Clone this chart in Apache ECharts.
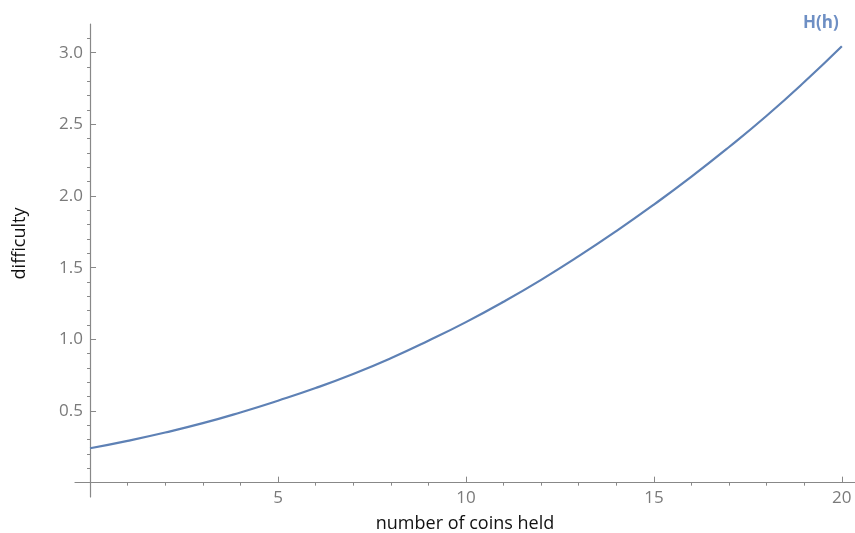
<!DOCTYPE html>
<html>
<head>
<meta charset="utf-8">
<script src="https://cdn.jsdelivr.net/npm/echarts@6/dist/echarts.min.js"></script>
<style>
html,body{margin:0;padding:0;background:#fff;}
#chart{width:855px;height:533px;}
</style>
</head>
<body>
<div id="chart"></div>
<script>
// Data
const coins = [0,1,2,3,4,5,6,7,8,9,10,11,12,13,14,15,16,17,18,19,20];
const difficulty = [0.240,0.292,0.350,0.415,0.490,0.572,0.660,0.758,0.868,0.990,1.120,1.262,1.415,1.580,1.755,1.940,2.135,2.342,2.560,2.795,3.045];
const xMajorTicks = [5,10,15,20];
const xMinorTicks = [1,2,3,4,6,7,8,9,11,12,13,14,16,17,18,19];
const yMajorTicks = [0.5,1.0,1.5,2.0,2.5,3.0];
const yMinorTicks = [0.1,0.2,0.3,0.4,0.6,0.7,0.8,0.9,1.1,1.2,1.3,1.4,1.6,1.7,1.8,1.9,2.1,2.2,2.3,2.4,2.6,2.7,2.8,2.9,3.1];
const seriesName = 'H(h)';
const xTitle = 'number of coins held';
const yTitle = 'difficulty';

const chart = echarts.init(document.getElementById('chart'), null, {renderer:'canvas'});
const axisColor = '#888888';
const labelColor = '#7a7a7a';
const lineColor = '#5E81B5';
const XMIN = -0.4, XMAX = 20.35, YMIN = -0.1, YMAX = 3.2;

const commonX = {
  type:'value', min:XMIN, max:XMAX, gridIndex:0,
  splitLine:{show:false}
};
const commonY = {
  type:'value', min:YMIN, max:YMAX, gridIndex:0,
  splitLine:{show:false}
};

chart.setOption({
  animation:false,
  backgroundColor:'#ffffff',
  grid:{left:75, right:0, top:24, bottom:36, containLabel:false, outerBoundsMode:'none'},
  xAxis:[
    Object.assign({}, commonX, {
      name:xTitle, nameLocation:'middle', nameGap:18,
      nameTextStyle:{color:'#111', fontFamily:'Open Sans', fontSize:18},
      axisLine:{show:true, onZero:true, onZeroAxisIndex:0, lineStyle:{color:axisColor, width:1.2}},
      axisTick:{show:true, inside:true, length:6, customValues:xMajorTicks, lineStyle:{color:axisColor}},
      axisLabel:{show:true, customValues:xMajorTicks, color:labelColor, fontFamily:'Open Sans', fontSize:17, margin:-7}
    }),
    Object.assign({}, commonX, {
      axisLine:{show:false, onZero:true, onZeroAxisIndex:0},
      axisTick:{show:true, inside:true, length:3, customValues:xMinorTicks, lineStyle:{color:axisColor}},
      axisLabel:{show:false}
    })
  ],
  yAxis:[
    Object.assign({}, commonY, {
      name:yTitle, nameLocation:'middle', nameGap:46, nameRotate:90,
      nameTextStyle:{color:'#111', fontFamily:'Open Sans', fontSize:18, padding:[0,0,0,34]},
      axisLine:{show:true, onZero:true, onZeroAxisIndex:0, lineStyle:{color:axisColor, width:1.2}},
      axisTick:{show:true, inside:true, length:6, customValues:yMajorTicks, lineStyle:{color:axisColor}},
      axisLabel:{show:true, customValues:yMajorTicks, color:labelColor, fontFamily:'Open Sans', fontSize:17, margin:-8,
        formatter:v=>v.toFixed(1)}
    }),
    Object.assign({}, commonY, {
      axisLine:{show:false, onZero:true, onZeroAxisIndex:0},
      axisTick:{show:true, inside:true, length:3, customValues:yMinorTicks, lineStyle:{color:axisColor}},
      axisLabel:{show:false}
    })
  ],
  series:[{
    name:seriesName, type:'line', xAxisIndex:0, yAxisIndex:0,
    data:coins.map((c,i)=>[c, difficulty[i]]),
    smooth:true, showSymbol:false,
    lineStyle:{color:lineColor, width:2.2},
    endLabel:{show:true, formatter:seriesName, position:'top', align:'center', offset:[-29,-23],
      color:'#6E8FC4', fontFamily:'Open Sans', fontWeight:'bold', fontSize:17}
  }]
});
</script>
</body>
</html>
